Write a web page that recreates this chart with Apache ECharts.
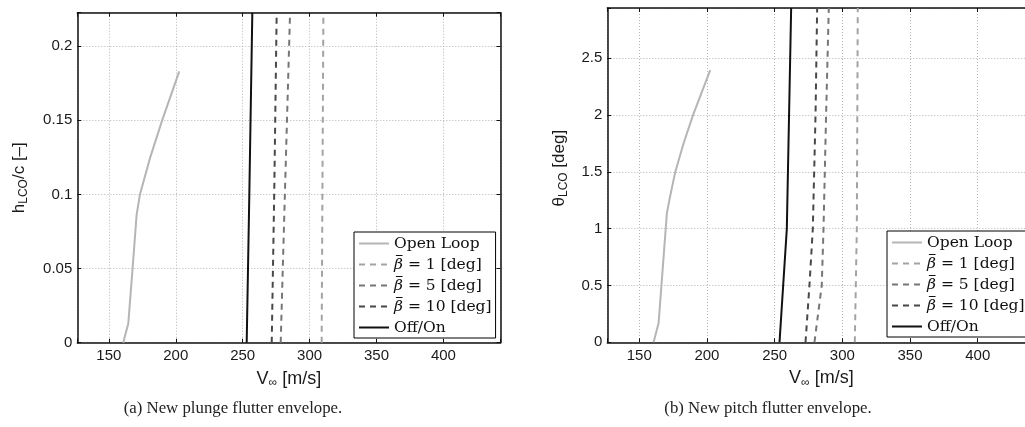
<!DOCTYPE html>
<html>
<head>
<meta charset="utf-8">
<script src="https://cdn.jsdelivr.net/npm/echarts@6/dist/echarts.min.js"></script>
<style>
  html, body { margin: 0; padding: 0; background: #fff; }
  #chart { width: 1025px; height: 427px; }
</style>
</head>
<body>
<div id="chart"></div>
<script>
// Flutter envelopes: LCO amplitude against free-stream speed, plunge (a) and pitch (b)

const speedTicks = [150, 200, 250, 300, 350, 400];
const plungeTicks = [0, 0.05, 0.1, 0.15, 0.2];
const pitchTicks = [0, 0.5, 1, 1.5, 2, 2.5];

const BETA = '\u03B2';
const seriesNames = ['Open Loop', BETA + ' = 1 [deg]', BETA + ' = 5 [deg]', BETA + ' = 10 [deg]', 'Off/On'];

// plunge envelope: [V (m/s), h_LCO / c]
const plungeOpenLoop = [[160.7, 0], [164.5, 0.013], [167.7, 0.05], [170.7, 0.086], [173.2, 0.1], [180.9, 0.125], [189.8, 0.15], [202.6, 0.183]];
const plungeBeta1 = [[309.0, 0], [310.3, 0.2226]];
const plungeBeta5 = [[278.4, 0], [281.6, 0.1024], [285.4, 0.2226]];
const plungeBeta10 = [[271.7, 0], [273.6, 0.1024], [275.4, 0.2226]];
const plungeOffOn = [[253.0, 0], [255.0, 0.1024], [257.2, 0.2226]];

// pitch envelope: [V (m/s), theta_LCO (deg)]
const pitchOpenLoop = [[160.6, 0], [164.3, 0.17], [170.4, 1.135], [172.2, 1.25], [176.6, 1.5], [182.7, 1.75], [189.7, 2.0], [202.4, 2.397]];
const pitchBeta1 = [[309.2, 0], [310.7, 1.0], [311.4, 2.943]];
const pitchBeta5 = [[279.4, 0], [284.8, 0.5], [286.1, 1.0], [288.0, 2.0], [290.0, 2.943]];
const pitchBeta10 = [[272.8, 0], [275.7, 0.5], [278.2, 1.0], [280.2, 2.0], [281.4, 2.943]];
const pitchOffOn = [[253.6, 0], [259.0, 1.0], [262.2, 2.943]];

const speedRange = [126.4, 442.6];
const plungeRange = [0, 0.2226];
const pitchRange = [0, 2.943];

const lineStyles = [
  { color: '#b5b5b5', width: 2, type: 'solid' },
  { color: '#a3a3a3', width: 2, type: [6, 5] },
  { color: '#767676', width: 2, type: [6, 5] },
  { color: '#484848', width: 2, type: [6, 5] },
  { color: '#111111', width: 2, type: 'solid' }
];

const SANS = 'Liberation Sans';
const SERIF = 'DejaVu Serif';
const LEGEND_SIZE = 15.5;

// narrow image used as the background of the beta glyph: a bar along its top edge
function makeOverbar() {
  const c = document.createElement('canvas');
  c.width = 10; c.height = 40;
  const g = c.getContext('2d');
  g.fillStyle = '#111';
  g.fillRect(2, 0, 7.5, 3);
  return c;
}
const overbar = makeOverbar();

function tickFormatter(ticks) {
  return function (v) {
    const t = ticks.find(function (x) { return Math.abs(x - v) < 1e-6; });
    return t === undefined ? '' : String(t);
  };
}

const subRich = {
  sub: { fontSize: 12, fontFamily: SANS, color: '#1a1a1a', lineHeight: 12, verticalAlign: 'bottom', padding: [8, 0, 0, 0] }
};

function mainXAxis(gridIndex) {
  return {
    type: 'value', gridIndex: gridIndex, position: 'bottom',
    min: speedRange[0], max: speedRange[1], splitNumber: 6,
    axisLine: { show: true, onZero: false, lineStyle: { color: '#111', width: 1.5 } },
    axisTick: { show: true, inside: true, length: 4, lineStyle: { color: '#111', width: 1 } },
    axisLabel: { color: '#1a1a1a', fontFamily: SANS, fontSize: 15, margin: 6, formatter: tickFormatter(speedTicks) },
    splitLine: { show: true, lineStyle: { color: '#b4b4b4', width: 1, type: [1, 2] } },
    name: 'V{sub|∞} [m/s]', nameLocation: 'middle', nameGap: 24,
    nameTextStyle: { color: '#1a1a1a', fontFamily: SANS, fontSize: 18, lineHeight: 20, rich: subRich }
  };
}

function boxXAxis(gridIndex) {
  return {
    type: 'value', gridIndex: gridIndex, position: 'top',
    min: speedRange[0], max: speedRange[1], splitNumber: 6,
    axisLine: { show: true, onZero: false, lineStyle: { color: '#111', width: 1.5 } },
    axisTick: { show: true, inside: true, length: 4, lineStyle: { color: '#111', width: 1 } },
    axisLabel: { show: false }, splitLine: { show: false }
  };
}

function mainYAxis(gridIndex, range, interval, ticks, name, gap, pad) {
  return {
    type: 'value', gridIndex: gridIndex, position: 'left',
    min: range[0], max: range[1], interval: interval,
    axisLine: { show: true, onZero: false, lineStyle: { color: '#111', width: 1.5 } },
    axisTick: { show: true, inside: true, length: 4, lineStyle: { color: '#111', width: 1 } },
    axisLabel: { color: '#1a1a1a', fontFamily: SANS, fontSize: 15, margin: 5, formatter: tickFormatter(ticks) },
    splitLine: { show: true, lineStyle: { color: '#b4b4b4', width: 1, type: [1, 2] } },
    name: name, nameLocation: 'middle', nameRotate: 90, nameGap: gap,
    nameTextStyle: { color: '#1a1a1a', fontFamily: SANS, fontSize: 17, lineHeight: 20, padding: pad, rich: subRich }
  };
}

function boxYAxis(gridIndex, range, interval) {
  return {
    type: 'value', gridIndex: gridIndex, position: 'right',
    min: range[0], max: range[1], interval: interval,
    axisLine: { show: true, onZero: false, lineStyle: { color: '#111', width: 1.5 } },
    axisTick: { show: true, inside: true, length: 4, lineStyle: { color: '#111', width: 1 } },
    axisLabel: { show: false }, splitLine: { show: false }
  };
}

function lineSeries(name, data, styleIdx, axisIdx) {
  const s = lineStyles[styleIdx];
  return {
    type: 'line', name: name, data: data,
    xAxisIndex: axisIdx.x, yAxisIndex: axisIdx.y,
    symbol: 'none', showSymbol: false, clip: true, silent: true,
    lineStyle: { color: s.color, width: s.width, type: s.type },
    itemStyle: { color: s.color },
    z: 3
  };
}

function legendBox(left, top) {
  return {
    data: seriesNames, orient: 'vertical', left: left, top: top,
    itemWidth: 30, itemHeight: 14, itemGap: 0,
    padding: [1, 4, 0, 4],
    borderColor: '#000', borderWidth: 1, backgroundColor: '#fff',
    selectedMode: false,
    itemStyle: { opacity: 0 },
    textStyle: {
      color: '#111', fontFamily: SERIF, fontSize: LEGEND_SIZE, lineHeight: 21,
      rich: {
        bb: {
          fontFamily: SERIF, fontStyle: 'italic', fontSize: LEGEND_SIZE, lineHeight: 21, color: '#111',
          padding: [2, 0, 2, 0], backgroundColor: { image: overbar }
        }
      }
    },
    formatter: function (name) {
      return name.indexOf(BETA) === 0 ? '{bb|' + BETA + '}' + name.slice(BETA.length) : name;
    },
    z: 10
  };
}

const plungeData = [plungeOpenLoop, plungeBeta1, plungeBeta5, plungeBeta10, plungeOffOn];
const pitchData = [pitchOpenLoop, pitchBeta1, pitchBeta5, pitchBeta10, pitchOffOn];

const series = [];
plungeData.forEach(function (d, i) { series.push(lineSeries(seriesNames[i], d, i, { x: 0, y: 0 })); });
pitchData.forEach(function (d, i) { series.push(lineSeries(seriesNames[i], d, i, { x: 2, y: 2 })); });

const chart = echarts.init(document.getElementById('chart'), null, { renderer: 'canvas' });
chart.setOption({
  animation: false,
  backgroundColor: '#ffffff',
  grid: [
    { left: 77.3, top: 12.7, width: 423.1, height: 330, containLabel: false, outerBoundsMode: 'none' },
    { left: 607.3, top: 8, right: -10.4, height: 334.3, containLabel: false, outerBoundsMode: 'none' }
  ],
  xAxis: [mainXAxis(0), boxXAxis(0), mainXAxis(1), boxXAxis(1)],
  yAxis: [
    mainYAxis(0, plungeRange, 0.05, plungeTicks, 'h{sub|LCO}/c [–]', 48, [0, 0, 0, 0]),
    boxYAxis(0, plungeRange, 0.05),
    mainYAxis(1, pitchRange, 0.5, pitchTicks, 'θ{sub|LCO} [deg]', 38, [0, 0, 0, 14]),
    boxYAxis(1, pitchRange, 0.5)
  ],
  legend: [legendBox(354, 232), legendBox(887, 231)],
  series: series,
  graphic: [
    { type: 'text', x: 233, y: 409, style: { text: '(a) New plunge flutter envelope.', fontFamily: 'Liberation Serif', fontSize: 16.8, fill: '#222', align: 'center', verticalAlign: 'middle' } },
    { type: 'text', x: 768, y: 409, style: { text: '(b) New pitch flutter envelope.', fontFamily: 'Liberation Serif', fontSize: 16.8, fill: '#222', align: 'center', verticalAlign: 'middle' } }
  ]
});
</script>
</body>
</html>
